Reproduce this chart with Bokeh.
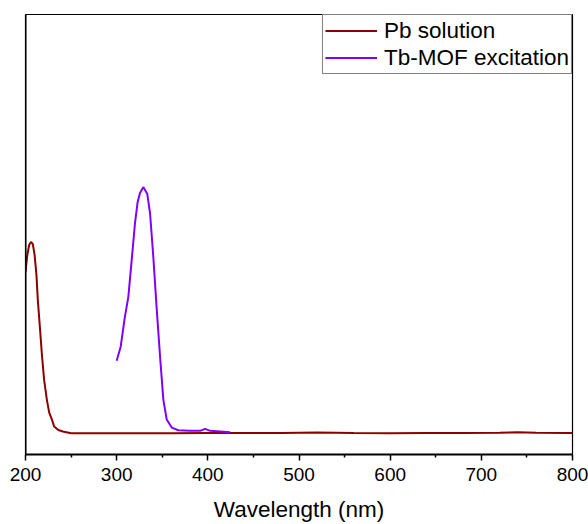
from bokeh.plotting import figure
from bokeh.models import Range1d, FixedTicker, Legend, LegendItem, Span
from bokeh.embed import file_html
from bokeh.resources import INLINE

# Pb solution (absorbance, arbitrary units)
pb_wl = [200, 202, 204, 206, 208, 210, 212, 213.5, 216, 218, 220.4, 223.4, 226, 229, 231.4, 236, 241, 250,
         280, 320, 360, 400, 440, 480, 520, 560, 600, 640, 680, 720, 740, 760, 800]
pb_val = [1.83, 2.00, 2.10, 2.13, 2.11, 2.00, 1.80, 1.55, 1.25, 1.00, 0.75, 0.55, 0.42, 0.35, 0.28, 0.245, 0.23, 0.212,
          0.212, 0.214, 0.214, 0.215, 0.215, 0.216, 0.22, 0.215, 0.214, 0.216, 0.216, 0.218, 0.222, 0.217, 0.216]

# Tb-MOF excitation
tb_wl = [300, 304.4, 309, 312.8, 316.5, 320.1, 323, 325.6, 329.2, 331.1, 333.6, 336.6, 340.2, 344, 347.6, 351.2,
         354.9, 360.4, 367.7, 380, 391.5, 397, 402.5, 424.5]
tb_val = [0.94, 1.08, 1.38, 1.58, 1.95, 2.32, 2.53, 2.62, 2.68, 2.65, 2.61, 2.42, 1.98, 1.45, 0.98, 0.55,
          0.35, 0.27, 0.243, 0.237, 0.237, 0.257, 0.237, 0.223]

major_ticks = [200, 300, 400, 500, 600, 700, 800]
minor_ticks = [250, 350, 450, 550, 650, 750]

FONT = "Liberation Sans"

p = figure(width=588, height=524, output_backend="svg", toolbar_location=None,
           x_range=Range1d(200, 800), y_range=Range1d(0, 4.41),
           min_border_left=25, min_border_right=16, min_border_top=14, min_border_bottom=0)
p.background_fill_color = "white"
p.border_fill_color = "white"
p.grid.visible = False
p.outline_line_color = "black"
p.outline_line_width = 1.2
p.outline_line_alpha = 1

p.yaxis.visible = False
p.add_layout(Span(location=200, dimension="height", line_color="black", line_width=2))

xa = p.xaxis[0]
xa.ticker = FixedTicker(ticks=major_ticks, minor_ticks=minor_ticks)
xa.axis_line_width = 2
xa.axis_line_color = "black"
xa.major_tick_line_width = 1.5
xa.minor_tick_line_width = 1.5
xa.major_tick_out = 6
xa.major_tick_in = 0
xa.minor_tick_out = 3
xa.minor_tick_in = 0
xa.major_label_text_font = FONT
xa.major_label_text_font_size = "19px"
xa.major_label_text_color = "black"
xa.major_label_standoff = 7
xa.axis_label = "Wavelength (nm)"
xa.axis_label_text_font = FONT
xa.axis_label_text_font_size = "22.5px"
xa.axis_label_text_font_style = "normal"
xa.axis_label_text_color = "black"
xa.axis_label_standoff = 13

r1 = p.line(pb_wl, pb_val, line_color="#8B0000", line_width=2)
r2 = p.line(tb_wl, tb_val, line_color="#8000FF", line_width=2)

legend = Legend(items=[LegendItem(label="Pb solution", renderers=[r1]),
                       LegendItem(label="Tb-MOF excitation", renderers=[r2])],
                location="top_right")
legend.margin = 0
legend.padding = 2
legend.spacing = 0
legend.glyph_width = 52
legend.glyph_height = 27
legend.label_height = 27
legend.label_standoff = 7
legend.label_text_font = FONT
legend.label_text_font_size = "22.5px"
legend.label_text_color = "black"
legend.border_line_color = "black"
legend.border_line_width = 1.2
legend.background_fill_alpha = 1
p.add_layout(legend)

open("out.html", "w").write(file_html(p, INLINE))
